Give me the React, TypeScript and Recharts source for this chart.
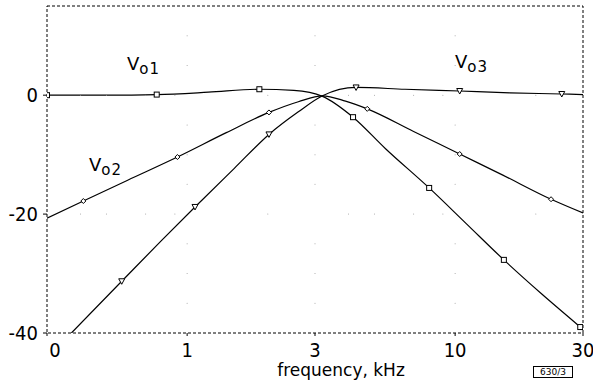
import React from "react";
import { LineChart, Line, XAxis, YAxis, ReferenceArea, ReferenceDot } from "recharts";

// axis ticks
const xTicks = [0.3, 1, 3, 10, 30];
const xTickLabels = ["0", "1", "3", "10", "30"];
const yTicks = [0, -20, -40];

// faint dotted grid
const minorX = [0.4, 0.5, 0.7, 0.9, 2, 4, 5, 7, 9, 20];
const gridRows = [0, -20];
const gridCols = [1, 3, 10];
const gridSteps = [10, 5, -5, -10, -15, -25, -30, -35];

// Vo1 (squares)
const vo1Freq = [0.3, 0.5, 0.77, 1.2, 1.86, 2.5, 3.2, 4.16, 5.5, 8, 11, 15.2, 21, 29.3, 30];
const vo1Gain = [0, 0, 0.1, 0.5, 1.0, 0.8, -0.2, -3.7, -9, -15.6, -21.6, -27.7, -33.4, -39, -39.4];
const vo1Marks = [0, 2, 4, 7, 9, 11, 13];

// Vo2 (diamonds)
const vo2Freq = [0.3, 0.41, 0.6, 0.92, 1.4, 2.02, 2.6, 3.2, 3.9, 4.7, 7, 10.4, 15, 22.8, 30];
const vo2Gain = [-20.7, -17.8, -14.3, -10.4, -6.3, -2.9, -1.1, -0.1, -1.0, -2.3, -6.1, -9.9, -13.4, -17.5, -19.8];
const vo2Marks = [1, 3, 5, 9, 11, 13];

// Vo3 (triangles)
const vo3Freq = [0.37, 0.57, 0.8, 1.07, 1.5, 2.02, 2.6, 3.2, 4.27, 6.5, 10.4, 16, 25, 30];
const vo3Gain = [-40, -31.3, -24.5, -18.8, -12.3, -6.6, -2.8, -0.1, 1.3, 1.0, 0.7, 0.4, 0.2, 0.1];
const vo3Marks = [1, 3, 5, 8, 10, 12];

const toPoints = (fs: number[], gs: number[]) => fs.map((f, i) => ({ f, g: gs[i] }));

const digitFont = "'Liberation Sans Narrow', 'DejaVu Sans Condensed', 'DejaVu Sans', sans-serif";
const textFont = "'DejaVu Sans', sans-serif";

function marker(kind: string, marks: number[]) {
  return (props: any) => {
    const { cx, cy, index } = props;
    if (cx == null || cy == null || !marks.includes(index)) return <g key={index} />;
    if (kind === "square")
      return <rect key={index} x={cx - 2.5} y={cy - 2.5} width={5} height={5} fill="#fff" stroke="#000" strokeWidth={1} />;
    if (kind === "diamond")
      return (
        <polygon key={index} points={`${cx},${cy - 2.5} ${cx + 2.5},${cy} ${cx},${cy + 2.5} ${cx - 2.5},${cy}`}
          fill="#fff" stroke="#000" strokeWidth={1} />
      );
    return (
      <polygon key={index} points={`${cx - 3},${cy - 2.5} ${cx + 3},${cy - 2.5} ${cx},${cy + 3}`}
        fill="#fff" stroke="#000" strokeWidth={1} />
    );
  };
}

function XTick(props: any) {
  const { x, y, payload } = props;
  const i = xTicks.indexOf(payload.value);
  return (
    <text x={x + (i === 0 ? 8 : 0)} y={y} dy="0.75em" textAnchor="middle" fontSize={20} fontFamily={digitFont} fill="#000">
      {xTickLabels[i]}
    </text>
  );
}

function YTick(props: any) {
  const { x, y, payload } = props;
  return (
    <text x={x} y={y} dy="0.36em" textAnchor="end" fontSize={20} fontFamily={digitFont} fill="#000">
      {payload.value}
    </text>
  );
}

function SeriesLabel({ x, y, sub }: { x: number; y: number; sub: string }) {
  return (
    <text x={x} y={y} fontFamily={textFont} fill="#000">
      <tspan fontSize={18}>V</tspan>
      <tspan fontSize={15} dy={4} letterSpacing={1}>{sub}</tspan>
    </text>
  );
}

export default function App() {
  const gridDots: { x: number; y: number }[] = [];
  gridRows.forEach((y) => minorX.forEach((x) => gridDots.push({ x, y })));
  gridCols.forEach((x) => gridSteps.forEach((y) => gridDots.push({ x, y })));

  return (
    <div style={{ position: "absolute", left: 0, top: 0, width: 593, height: 385, background: "#fff" }}>
      <LineChart width={593} height={385} margin={{ top: 6, right: 10, bottom: 0, left: 7 }}>
        <XAxis
          dataKey="f"
          type="number"
          scale="log"
          domain={[0.3, 30]}
          ticks={xTicks}
          allowDataOverflow
          axisLine={false}
          tickLine={{ stroke: "#000" }}
          tickSize={3}
          tickMargin={6}
          height={52}
          tick={<XTick />}
          label={{ value: "frequency, kHz", position: "insideBottom", offset: 9, dx: 26, fontSize: 17, fontFamily: textFont, fill: "#000" }}
        />
        <YAxis
          dataKey="g"
          type="number"
          domain={[-40, 15]}
          ticks={yTicks}
          allowDataOverflow
          axisLine={false}
          tickLine={{ stroke: "#000" }}
          tickSize={4}
          tickMargin={5}
          width={40}
          tick={<YTick />}
        />
        {gridDots.map((d, i) => (
          <ReferenceDot key={i} x={d.x} y={d.y} r={0.5} fill="#999" stroke="none" />
        ))}
        <ReferenceArea x1={0.3} x2={30} y1={-40} y2={15} fill="none" stroke="#000" strokeWidth={1} strokeDasharray="3 2" />
        <Line data={toPoints(vo1Freq, vo1Gain)} dataKey="g" type="monotone" stroke="#000" strokeWidth={1.2}
          dot={marker("square", vo1Marks)} activeDot={false} isAnimationActive={false} />
        <Line data={toPoints(vo2Freq, vo2Gain)} dataKey="g" type="monotone" stroke="#000" strokeWidth={1.2}
          dot={marker("diamond", vo2Marks)} activeDot={false} isAnimationActive={false} />
        <Line data={toPoints(vo3Freq, vo3Gain)} dataKey="g" type="monotone" stroke="#000" strokeWidth={1.2}
          dot={marker("triangle", vo3Marks)} activeDot={false} isAnimationActive={false} />
      </LineChart>
      <svg width={593} height={385} style={{ position: "absolute", left: 0, top: 0, pointerEvents: "none" }}>
        <SeriesLabel x={127} y={70} sub="o1" />
        <SeriesLabel x={89} y={171} sub="o2" />
        <SeriesLabel x={455} y={68} sub="o3" />
      </svg>
      <div
        style={{
          position: "absolute",
          left: 533,
          top: 366,
          width: 40,
          height: 12,
          border: "1px solid #000",
          boxSizing: "border-box",
          fontFamily: textFont,
          fontSize: 9,
          lineHeight: "10px",
          textAlign: "center",
        }}
      >
        630/3
      </div>
    </div>
  );
}
